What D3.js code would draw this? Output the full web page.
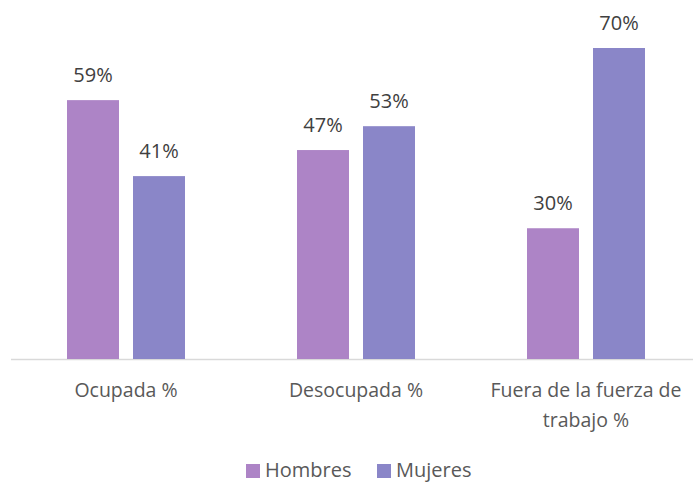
<!DOCTYPE html>
<html>
<head>
<meta charset="utf-8">
<script src="https://cdn.jsdelivr.net/npm/d3@7"></script>
<style>
  html, body { margin: 0; padding: 0; background: #fff; }
  svg { display: block; font-family: "Open Sans", sans-serif; }
</style>
</head>
<body>
<svg id="chart" width="693" height="482"></svg>
<script>
const categories = [["Ocupada %"], ["Desocupada %"], ["Fuera de la fuerza de", "trabajo %"]];
const seriesNames = ["Hombres", "Mujeres"];
const hombres = [58.6, 47.3, 29.6];
const mujeres = [41.4, 52.7, 70.4];
const colors = ["#AD84C6", "#8A86C8"];

const W = 693, H = 482;
const svg = d3.select("#chart");
const catKeys = categories.map(c => c.join(" "));
const seriesVals = [hombres, mujeres];

const x0 = d3.scaleBand().domain(catKeys).range([11, 701]).paddingInner(0).paddingOuter(0);
const x1 = d3.scaleBand().domain(seriesNames).range([-59, 59]).paddingInner(0.212);
const y = d3.scaleLinear().domain([0, 70.4]).range([359, 48]);
const color = d3.scaleOrdinal().domain(seriesNames).range(colors);

// baseline
svg.append("line")
  .attr("x1", 11).attr("x2", W)
  .attr("y1", y(0) + 0.5).attr("y2", y(0) + 0.5)
  .attr("stroke", "#d9d9d9").attr("stroke-width", 1.5);

const data = [];
catKeys.forEach((c, i) => {
  seriesNames.forEach((s, j) => data.push({ cat: c, series: s, value: seriesVals[j][i] }));
});

const g = svg.append("g");
g.selectAll("rect").data(data).enter().append("rect")
  .attr("x", d => x0(d.cat) + x0.bandwidth() / 2 + x1(d.series))
  .attr("y", d => y(d.value))
  .attr("width", x1.bandwidth())
  .attr("height", d => y(0) - y(d.value))
  .attr("fill", d => color(d.series));

g.selectAll("text.val").data(data).enter().append("text")
  .attr("class", "val")
  .attr("x", d => x0(d.cat) + x0.bandwidth() / 2 + x1(d.series) + x1.bandwidth() / 2)
  .attr("y", d => y(d.value) - 18)
  .attr("text-anchor", "middle")
  .attr("font-size", 20)
  .attr("fill", "#404040")
  .text(d => Math.round(d.value) + "%");

// category labels
const cl = svg.append("g");
categories.forEach((lines, i) => {
  const t = cl.append("text")
    .attr("x", x0(catKeys[i]) + x0.bandwidth() / 2)
    .attr("y", 397)
    .attr("text-anchor", "middle")
    .attr("font-size", 19.5)
    .attr("fill", "#595959");
  lines.forEach((ln, k) => {
    t.append("tspan")
      .attr("x", x0(catKeys[i]) + x0.bandwidth() / 2)
      .attr("dy", k === 0 ? 0 : 30)
      .text(ln);
  });
});

// legend
const legend = svg.append("g");
const legendX = [246, 377];
seriesNames.forEach((s, i) => {
  legend.append("rect")
    .attr("x", legendX[i]).attr("y", 464)
    .attr("width", 14).attr("height", 14)
    .attr("fill", color(s));
  legend.append("text")
    .attr("x", legendX[i] + 19).attr("y", 477)
    .attr("font-size", 20)
    .attr("fill", "#595959")
    .text(s);
});
</script>
</body>
</html>
